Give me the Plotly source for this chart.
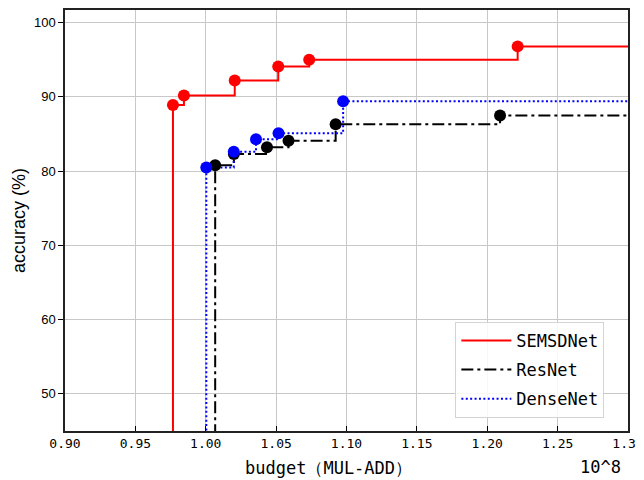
import plotly.graph_objects as go

# ---- data ----
sem_budget = [0.9767, 0.9845, 1.0206, 1.0515, 1.0735, 1.2216]
sem_acc = [88.9, 90.2, 92.2, 94.1, 95.0, 96.8]

res_budget = [1.0067, 1.0200, 1.0435, 1.0588, 1.0923, 1.2091]
res_acc = [80.8, 82.3, 83.2, 84.1, 86.3, 87.5]

dense_budget = [1.0004, 1.0199, 1.0357, 1.0517, 1.0976]
dense_acc = [80.5, 82.6, 84.3, 85.1, 89.4]

x_ticks = [0.90, 0.95, 1.00, 1.05, 1.10, 1.15, 1.20, 1.25, 1.30]
x_tick_labels = ["0.90", "0.95", "1.00", "1.05", "1.10", "1.15", "1.20", "1.25", "1.30"]
y_ticks = [50, 60, 70, 80, 90, 100]
y_tick_labels = ["50", "60", "70", "80", "90", "100"]

series = [
    ("SEMSDNet", sem_budget, sem_acc, "#ff0000", "solid"),
    ("ResNet", res_budget, res_acc, "#000000", "12px,4px,3px,4px"),
    ("DenseNet", dense_budget, dense_acc, "#0000ff", "2px,2.4px"),
]

X_RANGE = [0.90, 1.30]
Y_RANGE = [45, 101.7]

fig = go.Figure()
for name, xs, ys, color, dash in series:
    lx = [xs[0]] + xs + [X_RANGE[1] + 0.1]
    ly = [Y_RANGE[0] - 10] + ys + [ys[-1]]
    fig.add_trace(go.Scatter(
        x=lx, y=ly, mode="lines", name=name, legendgroup=name,
        line=dict(color=color, width=2, dash=dash, shape="hv"),
    ))
for name, xs, ys, color, dash in series:
    fig.add_trace(go.Scatter(
        x=xs, y=ys, mode="markers", showlegend=False, legendgroup=name,
        marker=dict(color=color, size=12, line=dict(width=0)),
    ))

mono = "DejaVu Sans Mono"
# page body has an 8px margin, so the figure is sized/offset to compensate
fig.update_layout(
    width=636, height=472,
    margin=dict(l=57, r=14, t=0, b=49),
    paper_bgcolor="white", plot_bgcolor="white",
    showlegend=True,
    legend=dict(
        x=0.958, y=0.031, xanchor="right", yanchor="bottom",
        bgcolor="rgba(255,255,255,0.85)", bordercolor="#d4d4d4", borderwidth=1,
        font=dict(family=mono, size=17, color="black"),
        itemwidth=50, tracegroupgap=4,
    ),
    xaxis=dict(
        range=X_RANGE, tickvals=x_ticks, ticktext=x_tick_labels,
        showgrid=True, gridcolor="#c8c8c8", gridwidth=1.3,
        ticks="inside", ticklen=5, tickwidth=1.3, tickcolor="black",
        showline=True, linecolor="#222222", linewidth=1.5, mirror=True,
        tickfont=dict(family=mono, size=13, color="black"),
        ticklabeloverflow="allow",
        zeroline=False,
    ),
    yaxis=dict(
        range=Y_RANGE, tickvals=y_ticks, ticktext=y_tick_labels,
        showgrid=True, gridcolor="#c8c8c8", gridwidth=1.3,
        ticks="outside", ticklen=5, tickwidth=1.3, tickcolor="black",
        showline=True, linecolor="#222222", linewidth=1.5, mirror=True,
        tickfont=dict(family="Liberation Sans", size=13, color="black"),
        title=dict(text="accuracy (%)", font=dict(family="Liberation Sans", size=18, color="black"), standoff=4),
        zeroline=False,
    ),
    annotations=[
        dict(text="budget（MUL-ADD）", xref="paper", yref="paper",
             x=(329 - 65) / 565, y=-(468 - 431) / 423, xanchor="center", yanchor="middle",
             showarrow=False, font=dict(family=mono, size=17, color="black")),
        dict(text="10^8", xref="paper", yref="paper",
             x=(602 - 65) / 565, y=-(467 - 431) / 423, xanchor="center", yanchor="middle",
             showarrow=False, font=dict(family=mono, size=17, color="black")),
    ],
)

fig.write_html("out.html", config={"displayModeBar": False})
